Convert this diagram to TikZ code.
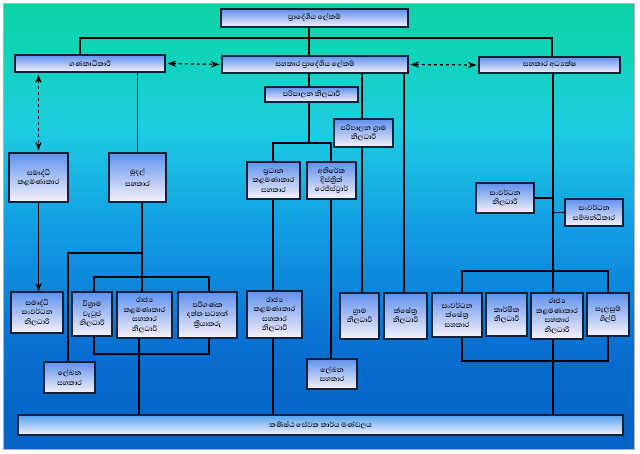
\documentclass[tikz,border=0pt]{standalone}
\usepackage{fontspec}
\newfontfamily\sinhalafont[Script=Sinhala]{Abhaya Libre}
\usetikzlibrary{arrows.meta}
\tikzset{>=Stealth}
\definecolor{bgA}{RGB}{6,98,198}
\definecolor{bgB}{RGB}{8,110,208}
\definecolor{bgC}{RGB}{18,158,228}
\definecolor{bgD}{RGB}{30,205,226}
\definecolor{bgE}{RGB}{16,212,182}
\definecolor{bgF}{RGB}{14,210,165}
\pgfdeclareverticalshading{bgshade}{100bp}{color(0bp)=(bgA); color(25bp)=(bgA);
  color(36bp)=(bgB); color(50bp)=(bgC); color(61bp)=(bgD); color(70bp)=(bgE);
  color(75bp)=(bgF); color(100bp)=(bgF)}
\definecolor{boxtop}{RGB}{95,145,238}
\definecolor{boxbot}{RGB}{248,242,250}
\definecolor{boxline}{RGB}{18,32,58}

\begin{document}
\begin{tikzpicture}[x=1pt, y=-1pt]
    \tikzset{%
      post/.style={draw=boxline, line width=1.3pt, top color=boxtop, bottom color=boxbot,
        align=center, inner sep=0pt, font=\sinhalafont\bfseries\fontsize{9}{9.4}\selectfont},
      wire/.style={line width=1.2pt},
      dbl/.style={wire, dashed, <->, shorten <=2pt, shorten >=2pt}
      }
     \useasboundingbox (0,0) rectangle (640,453);
     \fill[white] (0,0) rectangle (640,453);
     \shade[shading=bgshade, draw=gray!60] (3,3) rectangle (634,449);

     % top level
     \node [post, minimum width=187pt, minimum height=18pt] (DS) at (314.5,18) {ප්‍රාදේශීය ලේකම්};
     \node [post, minimum width=150pt, minimum height=17pt] (Acc) at (90,63.5) {ගණකාධිකාරී};
     \node [post, minimum width=186pt, minimum height=17pt] (ADS) at (315,64.5) {සහකාර ප්‍රාදේශීය ලේකම්};
     \node [post, minimum width=141pt, minimum height=16pt] (AD) at (549.5,65) {සහකාර අධ්‍යක්ෂ};

     \coordinate (Jtop) at (309,38);
     \coordinate (Jl) at (80,38);
     \coordinate (Jr) at (552,38);
     \draw [wire] (DS.south -| Jtop) -- (ADS.north -| Jtop);
     \draw [wire] (Acc.north -| Jl) -- (Jl) -- (Jr) -- (AD.north -| Jr);
     \draw [dbl] (Acc.east) -- (ADS.west);
     \draw [dbl] (ADS.east) -- (AD.west);

     % accountant branch
     \node [post, minimum width=59pt, minimum height=49pt] (Sm) at (38.5,177.5) {සමෘද්ධි\\කළමණාකාර};
     \node [post, minimum width=57pt, minimum height=49pt] (Fa) at (137.5,177.5) {මුදල්\\[3pt]සහකාර};
     \node [post, minimum width=52pt, minimum height=41pt] (Sdo) at (37,312.5) {සමෘද්ධි\\සංවර්ධන\\නිලධාරී};
     \node [post, minimum width=40pt, minimum height=44pt] (Po) at (92,314) {විශ්‍රාම\\වැටුප්\\නිලධාරී};
     \node [post, minimum width=55pt, minimum height=46pt] (Pma) at (144.5,315) {රාජ්‍ය\\කළමණාකාර\\සහකාර\\නිලධාරී};
     \node [post, minimum width=59pt, minimum height=46pt] (Deo) at (207.5,315) {පරිගණක\\දත්ත සටහන්\\ක්‍රියාකරු};
     \node [post, minimum width=51pt, minimum height=31pt] (Doc) at (69.5,377.5) {ලේඛන\\සහකාර};

     \draw [dbl] (Acc.south -| Sm) -- (Sm.north);
     \draw [wire] (Acc.south -| Fa) -- (Fa.north);
     \draw [wire, ->] (Sm.south) -- (Sdo.north -| Sm);

     \coordinate (Fx) at (142,253);
     \coordinate (Fl) at (68,253);
     \coordinate (Pl) at (94,277);
     \coordinate (Pr) at (209,277);
     \coordinate (Bl) at (94,354);
     \coordinate (Br) at (209,354);
     \coordinate (Pb) at (139,0);
     \draw [wire] (Fa.south -| Fx) -- (Fx) -- (Fl) -- (Doc.north -| Fl);
     \draw [wire] (Fx) -- (Pma.north -| Fx);
     \draw [wire] (Po.north -| Pl) -- (Pl) -- (Pr) -- (Deo.north -| Pr);
     \draw [wire] (Po.south -| Bl) -- (Bl) -- (Br) -- (Deo.south -| Br);

     % assistant divisional secretary branch
     \node [post, minimum width=93pt, minimum height=15pt] (Ao) at (311.5,94.5) {පරිපාලන නිලධාරී};
     \node [post, minimum width=59pt, minimum height=28pt] (Agn) at (363.5,133) {පරිපාලන ග්‍රාම\\නිලධාරී};
     \node [post, minimum width=53pt, minimum height=37pt] (Cma) at (273.5,180.5) {ප්‍රධාන\\කළමණාකාර\\සහකාර};
     \node [post, minimum width=49pt, minimum height=37pt] (Adr) at (331.5,180.5) {අතිරේක\\දිස්ත්‍රික්\\රෙජිස්ට්‍රාර්};
     \node [post, minimum width=55pt, minimum height=47pt] (Pmb) at (274.5,314.5) {රාජ්‍ය\\කළමණාකාර\\සහකාර\\නිලධාරී};
     \node [post, minimum width=39pt, minimum height=46pt] (Gn) at (359.5,316) {ග්‍රාම\\නිලධාරී};
     \node [post, minimum width=43pt, minimum height=46pt] (Fo) at (405.5,316) {ක්ෂේත්‍ර\\නිලධාරී};
     \node [post, minimum width=50pt, minimum height=30pt] (Docb) at (332,374) {ලේඛන\\සහකාර};

     \coordinate (Ax) at (309,143);
     \coordinate (Al) at (273,143);
     \coordinate (Ar) at (331,143);
     \coordinate (Gx) at (362,0);
     \coordinate (Fx2) at (404,0);
     \draw [wire] (ADS.south -| Ax) -- (Ao.north -| Ax);
     \draw [wire] (Ao.south -| Ax) -- (Ax);
     \draw [wire] (Cma.north -| Al) -- (Al) -- (Ar) -- (Adr.north -| Ar);
     \draw [wire] (ADS.south -| Gx) -- (Agn.north -| Gx);
     \draw [wire] (Agn.south -| Gx) -- (Gn.north -| Gx);
     \draw [wire] (ADS.south -| Fx2) -- (Fo.north -| Fx2);
     \draw [wire] (Cma.south -| Al) -- (Pmb.north -| Al);
     \draw [wire] (Adr.south -| Ar) -- (Docb.north -| Ar);

     % assistant director branch
     \node [post, minimum width=58pt, minimum height=30pt] (Dvo) at (505,198) {සංවර්ධන\\නිලධාරී};
     \node [post, minimum width=58pt, minimum height=27pt] (Dvc) at (594,212.5) {සංවර්ධන\\සම්බන්ධීකාර};
     \node [post, minimum width=50pt, minimum height=44pt] (Dfa) at (457,315) {සංවර්ධන\\ක්ෂේත්‍ර\\සහකාර};
     \node [post, minimum width=41pt, minimum height=43pt] (To) at (506.5,314.5) {කාර්මික\\නිලධාරී};
     \node [post, minimum width=52pt, minimum height=46pt] (Pmc) at (557,316) {රාජ්‍ය\\කළමණාකාර\\සහකාර\\නිලධාරී};
     \node [post, minimum width=42pt, minimum height=43pt] (Arc) at (608,314.5) {සැලසුම්\\ශිල්පී};

     \coordinate (Dx) at (553,271);
     \coordinate (Dl) at (462,271);
     \coordinate (Dr) at (608,271);
     \coordinate (El) at (462,361);
     \coordinate (Er) at (608,361);
     \draw [wire] (AD.south -| Dx) -- (Pmc.north -| Dx);
     \draw [wire] (Dvo.east) -- (Dvo.east -| Dx);
     \draw [wire] (Dvc.west) -- (Dvc.west -| Dx);
     \draw [wire] (Dfa.north -| Dl) -- (Dl) -- (Dr) -- (Arc.north -| Dr);
     \draw [wire] (Dfa.south -| El) -- (El) -- (Er) -- (Arc.south -| Er);

     % junior staff
     \node [post, minimum width=605pt, minimum height=20pt, top color=boxtop!85!cyan] (Js) at (320.5,425) {කණිෂ්ඨ සේවක කාර්ය මණ්ඩලය};
     \draw [wire] (Pma.south -| Pb) -- (Js.north -| Pb);
     \draw [wire] (Pmb.south -| Al) -- (Js.north -| Al);
     \draw [wire] (Pmc.south -| Dx) -- (Js.north -| Dx);

  \end{tikzpicture}
\end{document}
